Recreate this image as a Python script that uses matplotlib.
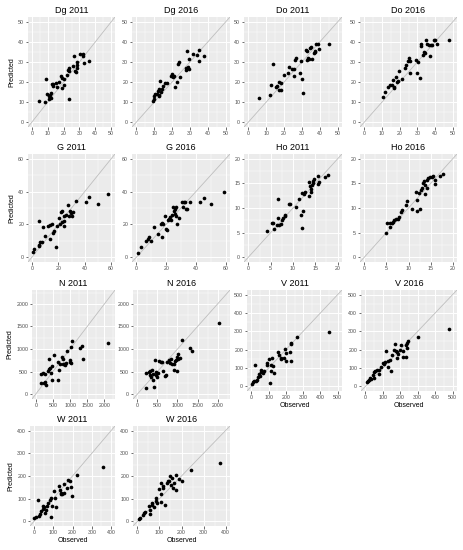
import numpy as np
import matplotlib
matplotlib.use("Agg")
import matplotlib.pyplot as plt

plt.rcParams['font.family'] = ['Liberation Sans', 'DejaVu Sans']

## == data (observed, predicted) ==
dg_2011_obs = [4.5, 9, 8.4, 9.3, 10.5, 11, 11.4, 12, 12, 12.4, 13.5, 13.5, 15.2, 16, 17.3, 18.1, 18.7, 18.9,
               20.2, 20.4, 21.9, 23, 23.2, 23.2, 23.6, 25.7, 26.3, 26.9, 27.8, 28.2, 28.4, 28.6, 30.3, 32, 32.4, 33, 35.8]
dg_2011_pred = [10.7, 21.5, 9.8, 14, 12.8, 11.5, 13.5, 14.5, 12, 18.8, 17.8, 19, 19.3, 17.5, 20, 23.2, 21.8, 17,
                21.7, 18.7, 23.7, 25.8, 11.5, 27.2, 25.7, 28.2, 33, 25.5, 25, 26.8, 29.8, 28.3, 34, 34, 32.8, 29.5, 30.3]
dg_2016_obs = [9.5, 9.9, 9.7, 10.5, 11.4, 12, 12.5, 12.5, 12.9, 13.3, 13.8, 14.4, 14.8, 16.1, 17, 19.3, 19.8, 20.4,
               21.1, 21.5, 22.6, 23.4, 23.9, 24.5, 27.7, 27.7, 28.2, 28.8, 29.3, 29.7, 32, 34.2, 35.3, 35.3, 38.1]
dg_2016_pred = [10.3, 11.7, 12.8, 14, 14, 15.3, 16.5, 12.8, 13.7, 20.7, 14.8, 16.7, 18.2, 19.5, 19.3, 23.2, 24, 22.5,
                23.2, 17.3, 19.8, 29, 29.8, 22.3, 25.8, 27, 35.3, 27.5, 26.7, 31.5, 34, 33.7, 36, 30.3, 33.2]

do_2011_obs = [6, 12.2, 12.5, 13.9, 15.5, 16.3, 16.9, 17.4, 18.2, 18.5, 19.7, 22.1, 23, 24.3, 25.5, 25.8, 26.2, 26.8,
               29, 29.4, 30.1, 30.7, 32.2, 32.8, 32.8, 33.5, 33.7, 34.3, 35.2, 35.9, 36.9, 37.1, 37.6, 38, 39.1, 39.7, 45]
do_2011_pred = [12, 13.7, 18.3, 29, 17.3, 18, 19.8, 16.2, 16.2, 19.5, 23.3, 24.3, 27.3, 26.7, 26.7, 23.2, 30.8, 31.8,
                24.7, 30.3, 21.7, 14.5, 35.8, 35.3, 30.8, 32, 31.3, 36.8, 37.5, 31.7, 34.5, 35.3, 35, 39, 39, 36.3, 39]
do_2016_obs = [10.4, 11.7, 13.6, 14.6, 15.5, 16.1, 16.5, 16.8, 17.8, 18.3, 19.3, 19.7, 21.2, 23.1, 23.6, 24.6, 25.5,
               25.9, 25.9, 29.3, 30.1, 30.6, 31.6, 32, 32.1, 33.5, 33.8, 34.4, 35, 35.3, 36.7, 37.2, 37.8, 38.6, 39.5,
               40.1, 41, 48.2]
do_2016_pred = [12.5, 14.8, 17.3, 18.7, 18.3, 21.2, 17.5, 17, 22.3, 19.8, 20.7, 25.3, 21.7, 27, 28.5, 30.3, 32, 30.7,
                24.5, 30.8, 24.5, 29.8, 22, 37.8, 39, 33.7, 34.8, 34.5, 40.8, 39, 38.7, 32.8, 38.3, 38.3, 41.2, 41.2,
                39, 41.2]

g_2011_obs = [1, 1.5, 5.5, 5.5, 6, 7.5, 5, 8, 10, 12.5, 13.5, 14, 15, 16, 17, 18, 19, 20.5, 21, 22, 22.5, 23, 24, 24,
              24.5, 26, 27, 28, 28.5, 29.5, 30, 31, 33.5, 41, 43, 50, 57.5]
g_2011_pred = [3, 5, 6.5, 7.5, 9, 9.5, 22, 18.5, 13, 19, 11, 19.5, 20, 15, 16, 6, 19, 24, 20, 27.5, 21.5, 28, 22, 25,
               19, 26, 32, 25, 28, 27, 25, 27.5, 34.5, 33.5, 36.5, 32.5, 38.5]
g_2016_obs = [1.2, 3, 6.7, 7.6, 8.5, 9.7, 11.8, 14.7, 16.4, 17, 17.3, 18.2, 19.1, 19.6, 20.5, 21, 21.9, 22.4, 23.3,
              24, 24.7, 25.3, 26, 26.5, 26, 26.9, 27.4, 28.6, 30.9, 31.6, 32, 32.9, 33.4, 34.3, 36.2, 42.6, 45.6,
              50.2, 59.2]
g_2016_pred = [2.7, 6.3, 9.6, 11, 12, 10, 18.4, 13.9, 20.4, 12.2, 20.8, 20.4, 24.9, 17.3, 16.3, 22.7, 23.5, 24.5,
               22.4, 25.9, 30.6, 28, 29.4, 30.6, 26.5, 24.9, 20.4, 23.9, 33.5, 30.6, 33.5, 33.5, 29.4, 29.4, 33.5,
               33.5, 36.1, 32.4, 39.6]

ho_2011_obs = [4.2, 5.2, 5.6, 5.8, 6.3, 6.6, 6.7, 6.9, 7.2, 7.5, 7.8, 8.1, 8.3, 9.1, 9.4, 10.6, 11.4, 11.7, 12, 12,
               12.3, 12.5, 12.8, 13.5, 13.6, 13.8, 14, 14.1, 14.3, 14.4, 14.6, 14.8, 15.5, 15.7, 15.9, 17.2, 17.8]
ho_2011_pred = [5.4, 6.9, 6.9, 5.8, 6.6, 11.9, 8, 6.5, 6.7, 7.6, 8, 8.4, 8.6, 10.8, 10.8, 10.3, 11.9, 8.5, 13, 6,
                9.4, 12.8, 13.2, 12.4, 15.2, 14.4, 13.2, 13.9, 14.7, 15.1, 15.6, 15.9, 16.5, 14.8, 15.3, 16.3, 16.7]
ho_2016_obs = [4.8, 5.1, 5.7, 5.8, 6.2, 6.4, 6.6, 7.2, 7.6, 7.9, 8.3, 8.5, 9.4, 9.6, 10.8, 11.7, 11.9, 12, 12.3,
               12.5, 12.8, 13, 13.4, 13.6, 13.8, 13.8, 14.2, 14.2, 14.5, 14.8, 15.3, 15.5, 16.1, 16.1, 17.2, 17.8]
ho_2016_pred = [5, 6.9, 6.9, 6.1, 6.9, 7.1, 7.6, 7.8, 7.8, 8.1, 9.2, 9.5, 10.7, 11.4, 9.8, 13.3, 9.3, 11.7, 13.1,
                9.7, 13.7, 14.1, 15, 15.4, 12.9, 14.6, 15.8, 14.1, 16.1, 16.3, 16.3, 16.5, 14.9, 15.8, 16.5, 16.9]

n_2011_obs = [152, 210, 276, 248, 162, 305, 276, 371, 419, 400, 467, 390, 448, 467, 543, 667, 648, 657, 705, 762,
              781, 781, 819, 857, 895, 924, 990, 1010, 1019, 1038, 1057, 1276, 1343, 1371, 2105]
n_2011_pred = [444, 459, 444, 237, 244, 200, 259, 511, 570, 556, 622, 778, 459, 311, 867, 526, 704, 319, 674, 830,
               674, 778, 674, 644, 689, 956, 719, 756, 681, 1037, 1178, 1015, 1059, 785, 1133]
n_2016_obs = [225, 225, 283, 325, 308, 350, 375, 392, 417, 392, 433, 458, 475, 492, 517, 542, 583, 625, 642, 683,
              725, 750, 792, 825, 850, 875, 908, 917, 942, 975, 992, 1017, 1000, 1017, 1058, 1100, 1308, 1350, 2042]
n_2016_pred = [133, 459, 481, 511, 422, 385, 533, 437, 163, 311, 756, 496, 422, 385, 459, 741, 719, 719, 511, 400,
               422, 719, 756, 681, 770, 674, 533, 667, 726, 756, 830, 881, 511, 778, 807, 1200, 1015, 963, 1570]

v_2011_obs = [6, 12, 15, 19, 25, 31, 38, 44, 50, 54, 58, 65, 73, 88, 92, 102, 108, 112, 115, 121, 125, 131, 154,
              160, 169, 173, 188, 194, 198, 202, 223, 227, 227, 231, 265, 452]
v_2011_pred = [14, 23, 27, 117, 32, 36, 50, 67, 54, 77, 90, 72, 85, 117, 130, 150, 18, 85, 117, 153, 113, 72, 186,
               171, 157, 150, 153, 202, 139, 182, 186, 238, 229, 139, 267, 297]
v_2016_obs = [7, 15, 21, 26, 30, 45, 52, 58, 48, 67, 76, 80, 91, 101, 108, 114, 119, 127, 132, 142, 147, 151, 166,
              172, 174, 179, 183, 188, 201, 207, 213, 216, 231, 235, 239, 241, 244, 304, 478]
v_2016_pred = [23, 31, 36, 45, 41, 63, 77, 85, 45, 90, 67, 90, 108, 126, 121, 135, 193, 108, 139, 144, 85, 171, 198,
               231, 193, 186, 157, 175, 198, 225, 162, 193, 225, 162, 234, 207, 247, 270, 315]

w_2011_obs = [3, 12, 21, 24, 30, 38, 47, 47, 52, 56, 61, 68, 73, 82, 87, 91, 94, 103, 108, 112, 129, 134, 138, 143,
              148, 154, 157, 169, 178, 187, 190, 199, 222, 360]
w_2011_pred = [15, 18, 95, 26, 32, 47, 56, 69, 63, 37, 51, 69, 81, 95, 102, 19, 69, 136, 102, 63, 157, 139, 121, 127,
               120, 124, 165, 149, 183, 179, 151, 114, 205, 239]
w_2016_obs = [8, 14, 26, 29, 33, 53, 59, 56, 64, 68, 74, 83, 86, 91, 98, 105, 106, 109, 114, 117, 123, 132, 139, 144,
              147, 152, 158, 162, 165, 173, 177, 189, 202, 245, 375]
w_2016_pred = [12, 15, 29, 37, 40, 66, 51, 32, 81, 72, 63, 88, 102, 83, 142, 85, 168, 120, 154, 146, 73, 168, 176,
               180, 198, 161, 193, 146, 168, 205, 139, 187, 176, 225, 257]

## axis limits and tick labels per group
limits = {'Dg': 50, 'Do': 50, 'G': 60, 'Ho': 20, 'N': 2200, 'V': 500, 'W': 400}
ticks = {'Dg': [0, 10, 20, 30, 40, 50], 'Do': [0, 10, 20, 30, 40, 50], 'G': [0, 20, 40, 60],
         'Ho': [0, 5, 10, 15, 20], 'N': [0, 500, 1000, 1500, 2000], 'V': [0, 100, 200, 300, 400, 500],
         'W': [0, 100, 200, 300, 400]}

panels = [
    ('Dg', '2011', dg_2011_obs, dg_2011_pred), ('Dg', '2016', dg_2016_obs, dg_2016_pred),
    ('Do', '2011', do_2011_obs, do_2011_pred), ('Do', '2016', do_2016_obs, do_2016_pred),
    ('G', '2011', g_2011_obs, g_2011_pred), ('G', '2016', g_2016_obs, g_2016_pred),
    ('Ho', '2011', ho_2011_obs, ho_2011_pred), ('Ho', '2016', ho_2016_obs, ho_2016_pred),
    ('N', '2011', n_2011_obs, n_2011_pred), ('N', '2016', n_2016_obs, n_2016_pred),
    ('V', '2011', v_2011_obs, v_2011_pred), ('V', '2016', v_2016_obs, v_2016_pred),
    ('W', '2011', w_2011_obs, w_2011_pred), ('W', '2016', w_2016_obs, w_2016_pred),
]

## panel boxes in pixels: (left, top, right, bottom)
W_PX, H_PX = 463, 550
boxes = [
    (28, 17, 115, 127), (132, 17, 230, 127), (244, 17, 342, 127), (360, 17, 457, 127),
    (28, 154, 115, 262), (132, 154, 230, 262), (244, 154, 342, 262), (360, 154, 457, 262),
    (32, 290, 115, 399), (133, 290, 230, 399), (247, 290, 342, 391), (361, 290, 457, 391),
    (30, 426, 115, 526), (133, 426, 230, 526),
]
show_ylab = [0, 4, 8, 12]
show_xlab = [10, 11, 12, 13]

fig = plt.figure(figsize=(W_PX / 100, H_PX / 100), dpi=100)
fig.patch.set_facecolor('white')

for i, (grp, yr, obs, pred) in enumerate(panels):
    l, t, r, b = boxes[i]
    ax = fig.add_axes([l / W_PX, 1 - b / H_PX, (r - l) / W_PX, (b - t) / H_PX])
    ax.set_facecolor('#EBEBEB')
    lim = limits[grp]
    pad = lim * 0.05
    ax.set_xlim(-pad, lim + pad)
    ax.set_ylim(-pad, lim + pad)
    tk = ticks[grp]
    step = tk[1] - tk[0]
    minor = [v + step / 2 for v in tk[:-1]]
    if tk[-1] + step / 2 < lim + pad:
        minor.append(tk[-1] + step / 2)
    ax.set_xticks(tk)
    ax.set_yticks(tk)
    ax.set_xticks(minor, minor=True)
    ax.set_yticks(minor, minor=True)
    ax.grid(which='major', color='white', lw=0.7)
    ax.grid(which='minor', color='white', lw=0.35)
    ax.set_axisbelow(True)
    for s in ax.spines.values():
        s.set_visible(False)
    ax.tick_params(which='major', length=1.8, width=0.5, color='#333333', labelsize=3.8,
                   labelcolor='#4D4D4D', pad=1)
    ax.tick_params(which='minor', length=0)
    ax.plot([-pad, lim + pad], [-pad, lim + pad], color='#BEBEBE', lw=0.6, zorder=2)
    ax.scatter(obs, pred, s=7, color='black', linewidths=0, zorder=3)
    ax.set_title(grp + ' ' + yr, fontsize=6.5, pad=3)
    if i in show_ylab:
        ax.set_ylabel('Predicted', fontsize=5, color='black', labelpad=2)
    if i in show_xlab:
        ax.set_xlabel('Observed', fontsize=5, color='black', labelpad=1.5)

fig.savefig('out.png', dpi=100)
